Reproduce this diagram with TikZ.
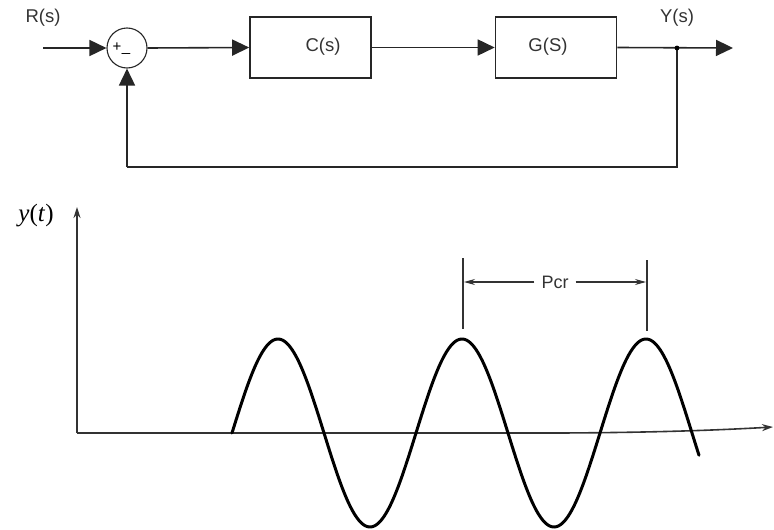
\documentclass[tikz,border=0pt]{standalone}
\usepackage{fontspec}
\setmainfont{Liberation Sans}
\newfontfamily\serifit{Liberation Serif}
\usetikzlibrary{arrows.meta}
\begin{document}
\begin{tikzpicture}[x=1pt,y=-1pt,
  wire/.style={line width=1.6pt,draw=black!85},
  fl/.style={-{Triangle[length=17pt,width=16pt]}},
  blk/.style={draw=black!85,line width=1.6pt,minimum width=121pt,minimum height=61pt,inner sep=0pt},
  lbl/.style={font=\fontsize{18.5}{20}\selectfont,text=black!80,inner sep=0pt},
  axis/.style={line width=1.6pt,draw=black!80,-{Stealth[length=11pt,width=7pt]}},
  dim/.style={line width=1.1pt,draw=black!80},
  dimarr/.style={dim,-{Stealth[length=11pt,width=6pt]}}]
\useasboundingbox (0,0) rectangle (774,530);
% block diagram
\node[draw=black!85,line width=1.1pt,circle,minimum size=40pt,inner sep=0pt] (sum) at (127,48) {};
\node[font=\fontsize{15}{15}\selectfont,inner sep=0pt] (plus) at (117,47) {+};
\node[font=\fontsize{15}{15}\selectfont,inner sep=0pt] (minus) at (126,53) {\_};
\node[blk] (C) at (310.5,47.5) {};
\node[lbl] (Ct) at (323,47) {C(s)};
\node[blk] (G) at (556,47.5) {};
\node[lbl] (Gt) at (548,47) {G(S)};
\coordinate (in) at (43,48);
\coordinate (out) at (733,48);
\coordinate (br) at (677,48);
\coordinate (fb1) at (677,167);
\coordinate (fb2) at (127,167);
\node[lbl] (R) at (43,18) {R(s)};
\node[lbl] (Y) at (677,18) {Y(s)};
\draw[wire,fl] (in) -- (sum.west);
\draw[wire,fl] (sum.east) -- (C.west);
\draw[wire,fl] (C.east) -- (G.west);
\draw[wire,fl] (G.east) -- (out);
\draw[wire] (br) -- (fb1) -- (fb2);
\draw[wire,fl] (fb2) -- (sum.south);
\fill[black] (br) circle (2.4pt);
% plot
\coordinate (o) at (77,433);
\coordinate (ytip) at (77,207);
\coordinate (xtip) at (773,427);
\draw[axis] (o) -- (ytip);
\draw[axis] (o) -- (560,433) .. controls (660,432.5) and (720,430) .. (xtip);
\node[inner sep=0pt,font=\serifit\fontsize{25}{27}\selectfont] (yt) at (36,216) {\textit{y}(\textit{t})};
\draw[line width=3pt,line cap=round,domain=232:699,samples=240,smooth] plot (\x,{433-94*sin((\x-232)/184*360)});
% Pcr
\coordinate (l1) at (463,258);
\coordinate (l2) at (463,329);
\coordinate (r1) at (647,260);
\coordinate (r2) at (647,331);
\draw[dim] (l1) -- (l2);
\draw[dim] (r1) -- (r2);
\node[lbl,font=\fontsize{18}{20}\selectfont] (P) at (555,282) {Pcr};
\coordinate (la) at (464,282);
\coordinate (ra) at (646,282);
\draw[dimarr] (P.west) ++(-7,0) -- (la);
\draw[dimarr] (P.east) ++(7,0) -- (ra);
\end{tikzpicture}
\end{document}
